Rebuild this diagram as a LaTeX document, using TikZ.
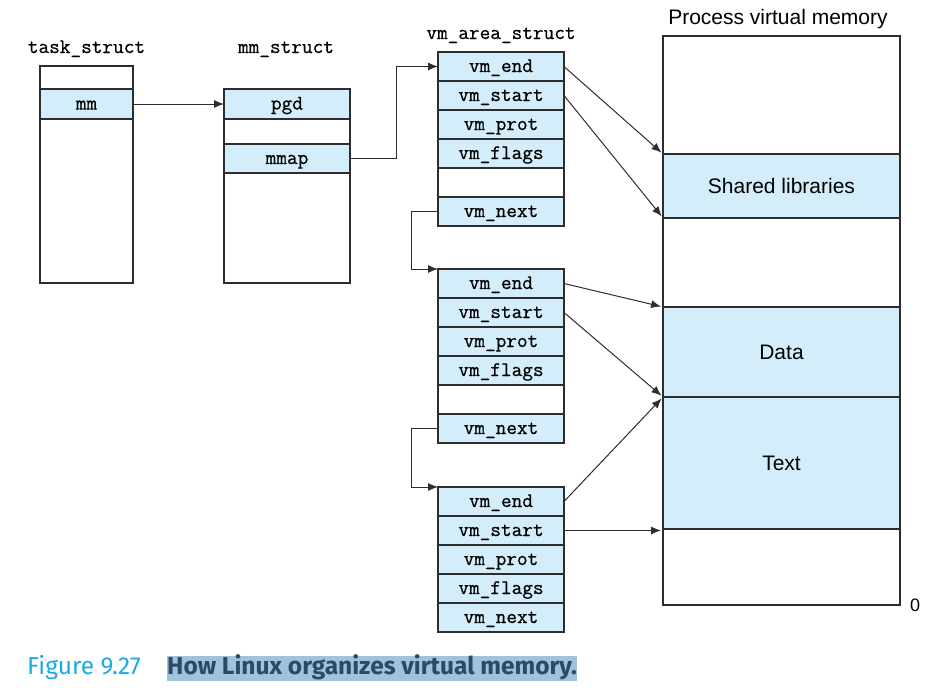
\documentclass[tikz,border=0pt]{standalone}
\usepackage{fontspec}
\setmainfont{Liberation Sans}
\setmonofont{Latin Modern Mono}[FakeBold=0.6]
\newfontfamily\capfont{Fira Sans}
\usetikzlibrary{arrows.meta}
\definecolor{fieldblue}{RGB}{211,237,250}
\definecolor{linegray}{RGB}{45,45,45}
\definecolor{figcyan}{RGB}{28,170,230}
\definecolor{capdark}{RGB}{44,74,102}
\definecolor{caphigh}{RGB}{157,195,222}

\begin{document}
\begin{tikzpicture}[x=1pt,y=-1pt]
\tikzstyle{field}=[draw=linegray, line width=1.1pt, fill=fieldblue, minimum width=126pt, minimum height=29pt, inner sep=0pt, outer sep=0pt, font=\ttfamily\fontsize{20.7}{24}\selectfont, text height=14pt, text depth=3pt]
\tikzstyle{blank}=[field, fill=white]
\tikzstyle{frame}=[draw=linegray, line width=1.1pt, inner sep=0pt, outer sep=0pt]
\tikzstyle{segment}=[frame, fill=fieldblue, minimum width=237pt, font=\fontsize{21}{25}\selectfont]
\tikzstyle{title}=[inner sep=0pt, anchor=base, font=\ttfamily\fontsize{20.7}{24}\selectfont]
\tikzstyle{link}=[-{Latex[length=10pt,width=8pt]}, draw=linegray, line width=1pt]

	\useasboundingbox (0,0) rectangle (940,689);

	%structs
	\node[frame, minimum width=93pt, minimum height=217pt] (task) at (86.5,174.5) {};
	\node[field, minimum width=93pt, minimum height=30pt] (mm) at (86.5,104) {mm};
	\node[frame, minimum width=126pt, minimum height=194pt] (mmstruct) at (287,186) {};
	\node[field, minimum height=30pt] (pgd) at (287,104) {pgd};
	\node[field] (mmap) at (287,158.5) {mmap};
	\node[title] (task_label) at (86.5,53) {task\_struct};
	\node[title] (mm_label) at (286,53) {mm\_struct};
	\node[title] (vm_label) at (501,39) {vm\_area\_struct};

	%areas
	\node[field] (end1) at (501,66.5) {vm\_end};
	\node[field] (start1) at (501,95.5) {vm\_start};
	\node[field] (prot1) at (501,124.5) {vm\_prot};
	\node[field] (flags1) at (501,153.5) {vm\_flags};
	\node[blank] (gap1) at (501,182.5) {};
	\node[field] (next1) at (501,211.5) {vm\_next};

	\node[field] (end2) at (501,283.5) {vm\_end};
	\node[field] (start2) at (501,312.5) {vm\_start};
	\node[field] (prot2) at (501,341.5) {vm\_prot};
	\node[field] (flags2) at (501,370.5) {vm\_flags};
	\node[blank] (gap2) at (501,399.5) {};
	\node[field] (next2) at (501,428.5) {vm\_next};

	\node[field] (end3) at (501,501.5) {vm\_end};
	\node[field] (start3) at (501,530.5) {vm\_start};
	\node[field] (prot3) at (501,559.5) {vm\_prot};
	\node[field] (flags3) at (501,588.5) {vm\_flags};
	\node[field] (next3) at (501,617.5) {vm\_next};

	%memory
	\node[frame, minimum width=237pt, minimum height=569pt] (pvm) at (781.5,320.5) {};
	\node[segment, minimum height=64pt] (shlib) at (781.5,186) {Shared libraries};
	\node[segment, minimum height=90pt] (data) at (781.5,352) {Data};
	\node[segment, minimum height=132pt] (text) at (781.5,463) {Text};
	\node[inner sep=0pt, anchor=base, font=\fontsize{21}{25}\selectfont] (pvm_label) at (778,24) {Process virtual memory};
	\node[inner sep=0pt, font=\fontsize{18}{22}\selectfont] (zero) at (915,605.5) {0};

	%paths
	\draw[link] (mm.east) -- (pgd.west);
	\draw[link] (mmap.east) -- ++(46,0) |- (end1.west);
	\draw[link] (next1.west) -- ++(-27,0) |- (end2.north west);
	\draw[link] (next2.west) -- ++(-27,0) |- (end3.north west);
	\draw[link, shorten >=2pt] (end1.east) -- (shlib.north west);
	\draw[link, shorten >=2pt] (start1.east) -- (shlib.south west);
	\draw[link, shorten >=2pt] (end2.east) -- (data.north west);
	\draw[link, shorten >=2pt] (start2.east) -- (data.south west);
	\draw[link, shorten >=2pt] (end3.east) -- (text.north west);
	\draw[link, shorten >=2pt] (start3.east) -- (start3.east -| text.south west);

	%caption
	\node[anchor=base west, inner sep=0pt, text=figcyan, font=\capfont\fontsize{24.5}{28}\selectfont] (fig_num) at (27,674) {Figure 9.27};
	\node[anchor=base west, inner sep=0pt, fill=caphigh, text=capdark, text height=18pt, text depth=7pt, font=\capfont\bfseries\fontsize{24.5}{28}\selectfont] (fig_title) at (167,674) {How Linux organizes virtual memory.};

\end{tikzpicture}
\end{document}
